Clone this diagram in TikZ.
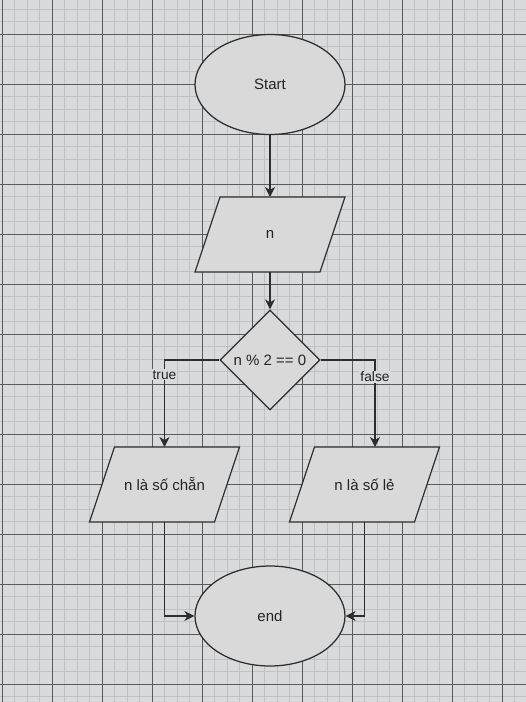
\documentclass[tikz,border=0pt]{standalone}
\usepackage{fontspec}
\setmainfont{Liberation Sans}
\usetikzlibrary{shapes.geometric,arrows.meta,calc}
\pgfdeclarelayer{gridlayer}
\pgfdeclarelayer{bglayer}
\pgfsetlayers{gridlayer,bglayer,main}
\definecolor{bgc}{RGB}{217,218,219}
\definecolor{minorc}{RGB}{192,193,194}
\definecolor{majorc}{RGB}{90,90,88}
\definecolor{shpfill}{RGB}{217,217,218}
\definecolor{strk}{RGB}{45,45,45}
\definecolor{txt}{RGB}{35,35,35}
\newcommand{\paraloutline}[1]{%
  \begin{pgfonlayer}{bglayer}
    \draw[shp] ($(#1.north west)+(25,0)$) -- (#1.north east) -- ($(#1.south east)+(-25,0)$) -- (#1.south west) -- cycle;
  \end{pgfonlayer}}
\tikzset{
  shp/.style={draw=strk, fill=shpfill, line width=1.25pt, line join=miter},
  nodetext/.style={text=txt, font=\fontsize{15}{18}\selectfont},
  term/.style={shp, nodetext, ellipse, minimum width=150pt, minimum height=100pt, inner sep=0pt},
  decbox/.style={shp, nodetext, diamond, aspect=1, minimum width=100pt, minimum height=100pt, inner sep=0pt},
  parabox/.style={nodetext, minimum width=150pt, minimum height=75pt, inner sep=0pt, outer sep=0pt},
  arr/.style={draw=strk, line width=1.25pt, -{Stealth[length=10pt,width=10pt,inset=3pt]}},
  lbl/.style={fill=bgc, text=txt, font=\fontsize{13.75}{16}\selectfont, inner sep=1pt},
  minorline/.style={draw=minorc, line width=0.9pt},
  majorline/.style={draw=majorc, line width=0.95pt}
}
\begin{document}
\begin{tikzpicture}[x=1pt,y=-1pt]
\useasboundingbox (0,0) rectangle (526,702);
\begin{pgfonlayer}{gridlayer}
  \fill[bgc] (0,0) rectangle (526,702);
  \foreach \i in {0,...,42} \draw[minorline] ({2+12.5*\i},0) -- ({2+12.5*\i},702);
  \foreach \i in {0,...,55} \draw[minorline] (0,{9+12.5*\i}) -- (526,{9+12.5*\i});
  \foreach \i in {0,...,10} \draw[majorline] ({2+50*\i},0) -- ({2+50*\i},702);
  \foreach \i in {0,...,13} \draw[majorline] (0,{34+50*\i}) -- (526,{34+50*\i});
\end{pgfonlayer}

\node[term] (start) at (270,84.5) {Start};
\node[parabox] (n) at (270,234.5) {n};
\paraloutline{n}
\node[decbox] (d) at (270,360) {n \% 2 == 0};
\node[parabox] (p1) at (164.5,484.5) {n là số chẵn};
\paraloutline{p1}
\node[parabox] (p2) at (364.5,484.5) {n là số lẻ};
\paraloutline{p2}
\node[term] (end) at (270,616) {end};

\draw[arr] (start.south) -- (n.north);
\draw[arr] (n.south) -- (d.north);
\draw[arr] (d.west) -| (p1.north) node[lbl,pos=0.586] {true};
\draw[arr] (d.east) -| ([xshift=10.5pt]p2.north) node[lbl,pos=0.598] {false};
\draw[arr] (p1.south) |- (end.west);
\draw[arr] (p2.south) |- (end.east);
\end{tikzpicture}
\end{document}
